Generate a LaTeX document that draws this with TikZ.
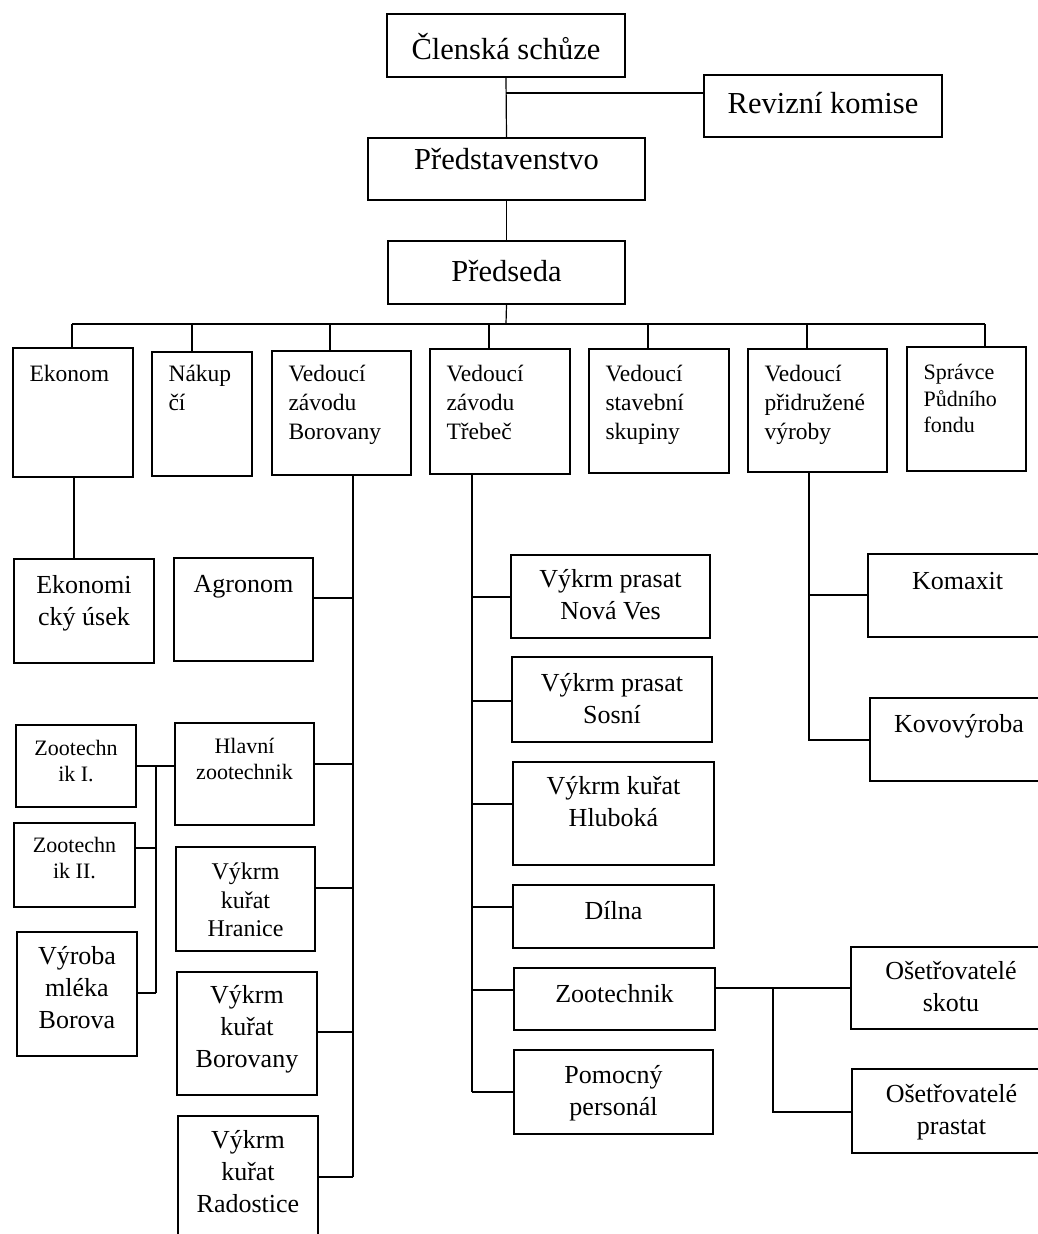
\documentclass[tikz,border=0pt]{standalone}
\usepackage{fontspec}
\setmainfont{Liberation Serif}
\usetikzlibrary{fit,calc}
\tikzset{
  boxn/.style={draw, line width=1.3pt, inner sep=0pt},
  conn/.style={line width=1.2pt},
  ctext/.style={anchor=north, inner sep=0pt, align=center},
  ltext/.style={anchor=north west, inner sep=0pt, align=left},
  fbig/.style={font=\fontsize{30.5}{36}\selectfont},
  frow/.style={font=\fontsize{23.5}{29}\selectfont},
  fspr/.style={font=\fontsize{22}{26.5}\selectfont},
  fmid/.style={font=\fontsize{26}{32}\selectfont},
  fzoo/.style={font=\fontsize{22}{25.5}\selectfont},
  fhra/.style={font=\fontsize{24}{28.5}\selectfont},
}
% name, x1, y1, x2, y2, font style, first-baseline offset, text
\newcommand{\cbox}[8]{%
  \path (#2,-#3) coordinate (#1-a) (#4,-#5) coordinate (#1-b);
  \node[boxn, fit=(#1-a)(#1-b)] (#1) {};
  \node[ctext,#6] (#1-t) at ($(#1.north)+(0,30-#7)$) {\rule{0pt}{30pt}#8};
}
\newcommand{\lbox}[8]{%
  \path (#2,-#3) coordinate (#1-a) (#4,-#5) coordinate (#1-b);
  \node[boxn, fit=(#1-a)(#1-b)] (#1) {};
  \node[ltext,#6] (#1-t) at ($(#1.north west)+(17,30-#7)$) {\rule{0pt}{30pt}#8};
}
\begin{document}
\begin{tikzpicture}[x=1pt,y=1pt]
\useasboundingbox[fill=white] (0,0) rectangle (1037,-1234);

% top levels
\cbox{cs}{387}{14}{625}{77}{fbig}{46}{Členská schůze}
\cbox{rk}{704}{75}{942}{137}{fbig}{39}{Revizní komise}
\cbox{pr}{368}{138}{645}{200}{fbig}{32}{Představenstvo}
\cbox{ps}{388}{241}{625}{304}{fbig}{41}{Předseda}

% second row
\lbox{ek}{13}{348}{133}{477}{frow}{34}{Ekonom}
\lbox{nk}{152}{352}{252}{476}{frow}{30}{Nákup\\čí}
\lbox{vb}{272}{351}{411}{475}{frow}{31}{Vedoucí\\závodu\\Borovany}
\lbox{vt}{430}{349}{570}{474}{frow}{33}{Vedoucí\\závodu\\Třebeč}
\lbox{vs}{589}{349}{729}{473}{frow}{33}{Vedoucí\\stavební\\skupiny}
\lbox{vp}{748}{349}{887}{472}{frow}{33}{Vedoucí\\přidružené\\výroby}
\lbox{sp}{907}{347}{1026}{471}{fspr}{33}{Správce\\Půdního\\fondu}

% left column
\cbox{eu}{14}{559}{154}{663}{fmid}{35}{Ekonomi\\cký úsek}
\cbox{ag}{174}{558}{313}{661}{fmid}{35}{Agronom}
\cbox{z1}{16}{725}{136}{807}{fzoo}{31}{Zootechn\\ik I.}
\cbox{hz}{175}{723}{314}{825}{fzoo}{31}{Hlavní\\zootechnik}
\cbox{z2}{14}{823}{135}{907}{fzoo}{30}{Zootechn\\ik II.}
\cbox{vm}{17}{932}{137}{1056}{fmid}{33}{Výroba\\mléka\\Borova}
\cbox{hr}{176}{847}{315}{951}{fhra}{33}{Výkrm\\kuřat\\Hranice}
\cbox{kb}{177}{972}{317}{1095}{fmid}{32}{Výkrm\\kuřat\\Borovany}
\cbox{kr}{178}{1116}{318}{1250}{fmid}{33}{Výkrm\\kuřat\\Radostice}

% Trebec column
\cbox{nv}{511}{555}{710}{638}{fmid}{33}{Výkrm prasat\\Nová Ves}
\cbox{so}{512}{657}{712}{742}{fmid}{35}{Výkrm prasat\\Sosní}
\cbox{hl}{513}{762}{714}{865}{fmid}{33}{Výkrm kuřat\\Hluboká}
\cbox{di}{513}{885}{714}{948}{fmid}{35}{Dílna}
\cbox{zt}{514}{968}{715}{1030}{fmid}{35}{Zootechnik}
\cbox{pp}{514}{1050}{713}{1134}{fmid}{34}{Pomocný\\personál}

% right column
\cbox{km}{868}{554}{1047}{637}{fmid}{36}{Komaxit}
\cbox{kv}{870}{698}{1048}{781}{fmid}{35}{Kovovýroba}
\cbox{os}{851}{947}{1051}{1029}{fmid}{33}{Ošetřovatelé\\skotu}
\cbox{op}{852}{1069}{1051}{1153}{fmid}{34}{Ošetřovatelé\\prastat}

% ---- connectors ----
\coordinate (c0) at (506,-93);
\coordinate (bus) at (506,-324);
\draw[conn] (cs.south) -- (pr.north);
\draw[conn] (c0) -- (c0 -| rk.west);
\draw[conn] (pr.south) -- (ps.north);
\draw[conn] (ps.south) -- (bus);

\coordinate (d1) at (72,-324);
\coordinate (d2) at (192,-324);
\coordinate (d3) at (330,-324);
\coordinate (d4) at (489,-324);
\coordinate (d5) at (648,-324);
\coordinate (d6) at (807,-324);
\coordinate (d7) at (985,-324);
\draw[conn] (d1) -- (d7);
\draw[conn] (d1) -- (d1 |- ek.north);
\draw[conn] (d2) -- (d2 |- nk.north);
\draw[conn] (d3) -- (d3 |- vb.north);
\draw[conn] (d4) -- (d4 |- vt.north);
\draw[conn] (d5) -- (d5 |- vs.north);
\draw[conn] (d6) -- (d6 |- vp.north);
\draw[conn] (d7) -- (d7 |- sp.north);

% Ekonom
\coordinate (e1) at (74,-477);
\draw[conn] (e1) -- (e1 |- eu.north);

% Borovany bus
\coordinate (bb0) at (353,-475);
\coordinate (bb1) at (353,-598);
\coordinate (bb2) at (353,-764);
\coordinate (bb3) at (353,-888);
\coordinate (bb4) at (353,-1032);
\coordinate (bb5) at (353,-1177);
\draw[conn] (bb0) -- (bb5);
\draw[conn] (bb1) -- (bb1 -| ag.east);
\draw[conn] (bb2) -- (bb2 -| hz.east);
\draw[conn] (bb3) -- (bb3 -| hr.east);
\draw[conn] (bb4) -- (bb4 -| kb.east);
\draw[conn] (bb5) -- (bb5 -| kr.east);

% zootechnik sub-bus
\coordinate (zb1) at (156,-766);
\coordinate (zb2) at (156,-848);
\coordinate (zb3) at (156,-993);
\draw[conn] (zb1 -| z1.east) -- (zb1 -| hz.west);
\draw[conn] (zb1) -- (zb3);
\draw[conn] (zb2) -- (zb2 -| z2.east);
\draw[conn] (zb3) -- (zb3 -| vm.east);

% Trebec bus
\coordinate (tb0) at (472,-474);
\coordinate (tb1) at (472,-597);
\coordinate (tb2) at (472,-701);
\coordinate (tb3) at (472,-804);
\coordinate (tb4) at (472,-907);
\coordinate (tb5) at (472,-990);
\coordinate (tb6) at (472,-1092);
\draw[conn] (tb0) -- (tb6);
\draw[conn] (tb1) -- (tb1 -| nv.west);
\draw[conn] (tb2) -- (tb2 -| so.west);
\draw[conn] (tb3) -- (tb3 -| hl.west);
\draw[conn] (tb4) -- (tb4 -| di.west);
\draw[conn] (tb5) -- (tb5 -| zt.west);
\draw[conn] (tb6) -- (tb6 -| pp.west);

% zootechnik -> osetrovatele
\coordinate (zr1) at (773,-988);
\coordinate (zr2) at (773,-1112);
\draw[conn] (zr1 -| zt.east) -- (zr1 -| os.west);
\draw[conn] (zr1) -- (zr2) -- (zr2 -| op.west);

% pridruzena vyroba bus
\coordinate (pb0) at (809,-472);
\coordinate (pb1) at (809,-595);
\coordinate (pb2) at (809,-740);
\draw[conn] (pb0) -- (pb2) -- (pb2 -| kv.west);
\draw[conn] (pb1) -- (pb1 -| km.west);
\end{tikzpicture}
\end{document}
